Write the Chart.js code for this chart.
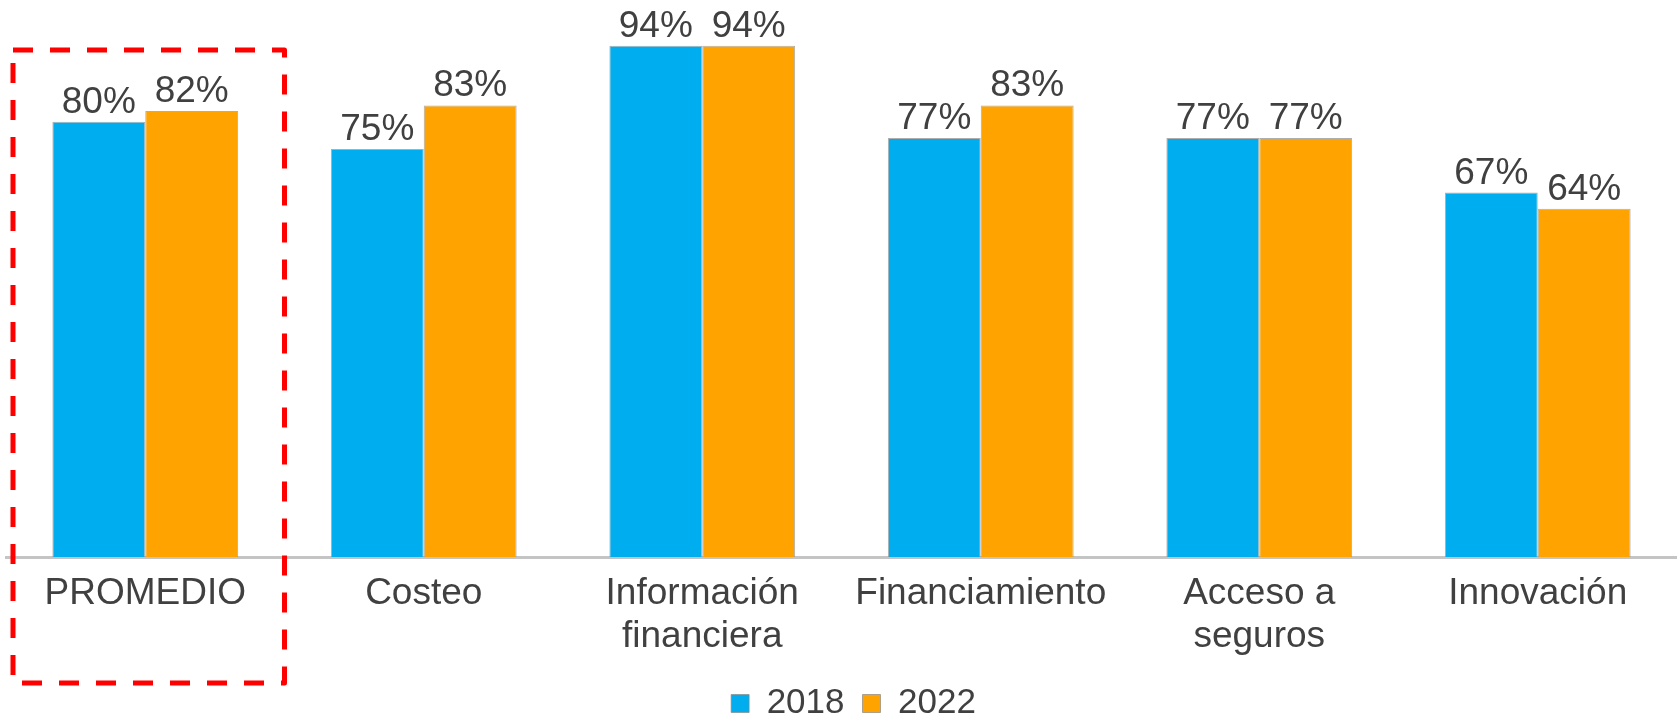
<!DOCTYPE html>
<html>
<head>
<meta charset="utf-8">
<script src="https://cdn.jsdelivr.net/npm/chart.js@4/dist/chart.umd.min.js"></script>
<style>
  html, body { margin: 0; padding: 0; background: #fff; overflow: hidden; }
  canvas { display: block; }
</style>
</head>
<body>
<canvas id="chart" width="1677" height="731"></canvas>
<script>
// categories and series
const categories = [
  'PROMEDIO',
  'Costeo',
  ['Información', 'financiera'],
  'Financiamiento',
  ['Acceso a', 'seguros'],
  'Innovación'
];
const values2018 = [80, 75, 94, 77, 77, 67];
const values2022 = [82, 83, 94, 83, 77, 64];
const seriesNames = ['2018', '2022'];

const FONT = "'Liberation Sans', Arial, sans-serif";
const TEXT = '#404040';

// percent labels above each bar
const valueLabels = {
  id: 'valueLabels',
  afterDatasetsDraw(chart) {
    const ctx = chart.ctx;
    ctx.save();
    ctx.font = '37px ' + FONT;
    ctx.fillStyle = TEXT;
    ctx.textAlign = 'center';
    ctx.textBaseline = 'alphabetic';
    chart.data.datasets.forEach((ds, i) => {
      chart.getDatasetMeta(i).data.forEach((bar, j) => {
        ctx.fillText(ds.data[j] + '%', bar.x, bar.y - 9);
      });
    });
    ctx.restore();
  }
};

// dashed red frame around the first category
const highlightBox = {
  id: 'highlightBox',
  afterLayout(chart) {
    // nudge the legend a little right, like the original
    chart.legend.left += 12;
    chart.legend.right += 12;
  },
  afterDraw(chart) {
    const x = chart.scales.x;
    const area = chart.chartArea;
    const left = x.left + 7;
    const right = (x.getPixelForValue(0) + x.getPixelForValue(1)) / 2;
    const top = area.top + 37;
    const bottom = area.bottom + 126;
    const ctx = chart.ctx;
    ctx.save();
    ctx.strokeStyle = '#ff0000';
    ctx.lineWidth = 5;
    ctx.lineJoin = 'round';
    ctx.setLineDash([20, 17]);
    ctx.beginPath();
    ctx.moveTo(left, top);
    ctx.lineTo(right, top);
    ctx.lineTo(right, bottom);
    ctx.lineTo(left, bottom);
    ctx.closePath();
    ctx.stroke();
    ctx.restore();
  }
};

new Chart(document.getElementById('chart'), {
  type: 'bar',
  data: {
    labels: categories,
    datasets: [
      {
        label: seriesNames[0],
        data: values2018,
        backgroundColor: '#00aeef',
        borderColor: 'rgba(140,140,140,0.7)',
        borderWidth: 1
      },
      {
        label: seriesNames[1],
        data: values2022,
        backgroundColor: '#ffa300',
        borderColor: 'rgba(140,140,140,0.7)',
        borderWidth: 1
      }
    ]
  },
  options: {
    responsive: false,
    animation: false,
    layout: { padding: { left: 6, right: 0, top: 13, bottom: 0 } },
    datasets: {
      bar: { categoryPercentage: 0.667, barPercentage: 1 }
    },
    scales: {
      x: {
        grid: { display: false, drawTicks: false },
        border: { display: true, color: '#c4c4c4', width: 3 },
        ticks: {
          color: TEXT,
          padding: 15,
          maxRotation: 0,
          autoSkip: false,
          font: { family: FONT, size: 37, lineHeight: 1.16 }
        },
        afterFit(scale) { scale.height = 111; }
      },
      y: {
        display: false,
        min: 0,
        max: 100
      }
    },
    plugins: {
      legend: {
        position: 'bottom',
        labels: {
          color: TEXT,
          boxWidth: 18,
          boxHeight: 18,
          padding: 18,
          font: { family: FONT, size: 35 }
        }
      },
      tooltip: { enabled: false }
    }
  },
  plugins: [valueLabels, highlightBox]
});
</script>
</body>
</html>
